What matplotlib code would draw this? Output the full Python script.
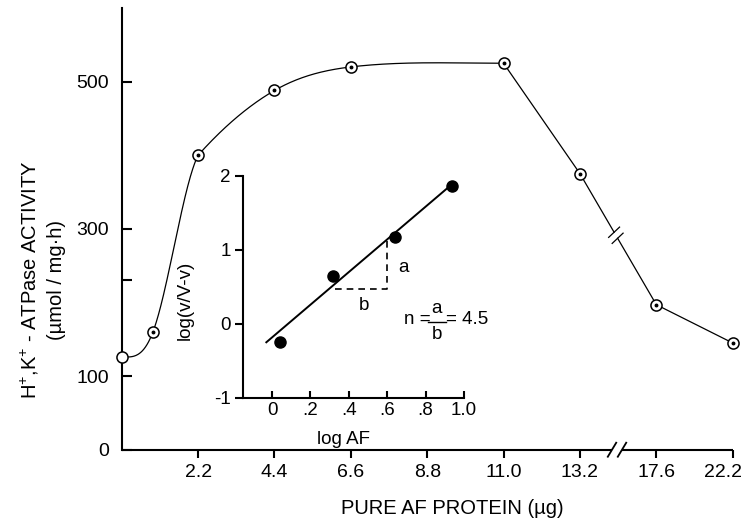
import numpy as np
import matplotlib
matplotlib.use("Agg")
import matplotlib.pyplot as plt
from matplotlib.transforms import IdentityTransform, blended_transform_factory, ScaledTranslation

plt.rcParams['font.family'] = ['Liberation Sans', 'DejaVu Sans']
plt.rcParams['mathtext.fontset'] = 'custom'
plt.rcParams['mathtext.rm'] = 'Liberation Sans'

# main curve: pure AF protein (ug) vs H+,K+-ATPase activity (umol / mg.h)
protein_ug = [0, 0.9, 2.2, 4.4, 6.6, 11.0, 13.2, 17.6, 22.2]
activity = [126, 160, 400, 488, 520, 525, 375, 197, 145]
n_smooth = 6          # first points joined by a smooth curve, rest straight
kink = 2              # the smooth curve bends sharply at 2.2 ug

x_ticks = [2.2, 4.4, 6.6, 8.8, 11.0, 13.2, 17.6, 22.2]
x_ticklabels = ['2.2', '4.4', '6.6', '8.8', '11.0', '13.2', '17.6', '22.2']
y_ticks = [0, 100, 230, 300, 500]
y_ticklabels = ['0', '100', '', '300', '500']

# broken x axis: every tick gets the same width
slot_ug = [0, 2.2, 4.4, 6.6, 8.8, 11.0, 13.2, 17.6, 22.2]
slot_pos = list(range(len(slot_ug)))

# inset: log plot
log_af = [0.04, 0.32, 0.64, 0.94]
log_v = [-0.24, 0.65, 1.17, 1.86]
fit_x = [-0.03, 0.92]
fit_y = [-0.25, 1.85]
tri_x = [0.33, 0.60, 0.60]
tri_y = [0.47, 0.47, 1.15]
inset_xticks = [0, 0.2, 0.4, 0.6, 0.8, 1.0]
inset_xticklabels = ['0', '.2', '.4', '.6', '.8', '1.0']
inset_yticks = [-1, 0, 1, 2]
inset_yticklabels = ['-1', '0', '1', '2']

FS = 14.5    # axis labels
TS = 14      # main tick labels
IS = 13.5    # inset text


def fwd(x):
    return np.interp(x, slot_ug, slot_pos)


def inv(s):
    return np.interp(s, slot_pos, slot_ug)


def end_slope(x, y):
    '''three point end slope, kept to the sign of the first secant'''
    h0, h1 = x[1] - x[0], x[2] - x[1]
    d0, d1 = (y[1] - y[0]) / h0, (y[2] - y[1]) / h1
    m = ((2 * h0 + h1) * d0 - h0 * d1) / (h0 + h1)
    return m if np.sign(m) == np.sign(d0) else 0.0


def hermite(x, y, m, xs):
    x = np.asarray(x, float)
    y = np.asarray(y, float)
    h = np.diff(x)
    idx = np.clip(np.searchsorted(x, xs) - 1, 0, len(x) - 2)
    t = (xs - x[idx]) / h[idx]
    h00 = 2 * t**3 - 3 * t**2 + 1
    h10 = t**3 - 2 * t**2 + t
    h01 = -2 * t**3 + 3 * t**2
    h11 = t**3 - t**2
    return (h00 * y[idx] + h10 * h[idx] * m[idx] + h01 * y[idx + 1]
            + h11 * h[idx] * m[idx + 1])


fig = plt.figure(figsize=(7.42, 5.26), dpi=100)
ax = fig.add_axes([0.164, 0.145, 0.8235, 0.8397])
ax.set_xscale('function', functions=(fwd, inv))
ax.set_xlim(0, 22.2)
ax.set_ylim(0, 600)

# smooth rising part: centred tangents, one-sided leaving the kink
xa = np.asarray(protein_ug[:n_smooth], float)
ya = np.asarray(activity[:n_smooth], float)
m = np.zeros_like(ya)
m[1:-1] = (ya[2:] - ya[:-2]) / (xa[2:] - xa[:-2])
m[0] = end_slope(xa, ya)
m_out = m.copy()
m_out[kink] = end_slope(xa[kink:], ya[kink:])
m_out[-1] = 0.0
xs1 = np.linspace(xa[0], xa[kink], 200)
xs2 = np.linspace(xa[kink], xa[-1], 300)
ax.plot(xs1, hermite(xa[:kink + 1], ya[:kink + 1], m[:kink + 1], xs1),
        color='k', lw=0.9, clip_on=False, zorder=2)
ax.plot(xs2, hermite(xa[kink:], ya[kink:], m_out[kink:], xs2),
        color='k', lw=0.9, zorder=2)
ax.plot(protein_ug[n_smooth - 1:n_smooth + 1], activity[n_smooth - 1:n_smooth + 1],
        color='k', lw=0.9, zorder=2)
ax.plot(protein_ug[-2:], activity[-2:], color='k', lw=0.9, clip_on=False, zorder=2)

# segment 13.2 -> 17.6 with break marks
px = IdentityTransform()
p0 = ax.transData.transform((protein_ug[6], activity[6]))
p1 = ax.transData.transform((protein_ug[7], activity[7]))
u = (p1 - p0) / np.hypot(*(p1 - p0))
b = p0 + 0.47 * (p1 - p0)
gap = 3.5
ax.plot([p0[0], (b - u * gap)[0]], [p0[1], (b - u * gap)[1]], color='k', lw=0.9, transform=px)
ax.plot([(b + u * gap)[0], p1[0]], [(b + u * gap)[1], p1[1]], color='k', lw=0.9, transform=px)
v = np.array([10.6, 10.0])
v = v / np.hypot(*v) * 7.5
for c in (b - u * gap, b + u * gap):
    ax.plot([c[0] - v[0], c[0] + v[0]], [c[1] - v[1], c[1] + v[1]], color='k', lw=0.9,
            transform=px, clip_on=False)

# markers: open circles with a dot (first one without)
ax.plot(protein_ug, activity, 'o', ms=8, mfc='white', mec='k', mew=1.1,
        clip_on=False, zorder=3)
ax.plot(protein_ug[1:], activity[1:], 'o', ms=1.8, color='k', clip_on=False, zorder=4)

# axes
for s in ('top', 'right', 'bottom'):
    ax.spines[s].set_visible(False)
ax.spines['left'].set_linewidth(1.5)
ax.set_xticks(x_ticks)
ax.set_xticklabels(x_ticklabels)
ax.set_yticks(y_ticks)
ax.set_yticklabels(y_ticklabels)
ax.tick_params(axis='x', direction='out', length=6, width=1.5, pad=4, labelsize=TS)
ax.tick_params(axis='y', direction='in', length=7, width=1.5, pad=9, labelsize=TS)
ax.minorticks_off()
# last label sits a bit left so it fits the page
last = ax.get_xticklabels()[-1]
last.set_transform(last.get_transform() + ScaledTranslation(-0.1, 0, fig.dpi_scale_trans))

# x axis line with a gap and slashes
trans = blended_transform_factory(ax.transData, ax.transAxes)
ax.plot([0, inv(6.42)], [0, 0], color='k', lw=1.5, transform=trans, clip_on=False,
        solid_capstyle='butt')
ax.plot([inv(6.55), 22.2], [0, 0], color='k', lw=1.5, transform=trans, clip_on=False,
        solid_capstyle='butt')
cx, cy = ax.transData.transform((inv(6.485), 0))
for dx in (-5, 5):
    ax.plot([cx + dx - 4.2, cx + dx + 4.2], [cy - 7, cy + 7], color='k', lw=1.3,
            transform=px, clip_on=False)

fig.text(452 / 742, 1 - 508 / 526, 'PURE AF PROTEIN (µg)', ha='center', va='center',
         fontsize=FS)
fig.text(30 / 742, 1 - 280 / 526, r'H$^{\mathregular{+}}$,K$^{\mathregular{+}}$ - ATPase ACTIVITY',
         rotation=90, ha='center', va='center', fontsize=FS)
fig.text(56 / 742, 1 - 280 / 526, '(µmol / mg·h)', rotation=90, ha='center', va='center',
         fontsize=FS)

# inset
ax2 = fig.add_axes([0.3279, 0.2439, 0.2974, 0.4215])
ax2.set_facecolor('none')
ax2.set_xlim(-0.15, 1.0)
ax2.set_ylim(-1, 2)
ax2.plot(fit_x, fit_y, color='k', lw=1.4)
ax2.plot(log_af, log_v, 'o', ms=8, color='k', clip_on=False)
ax2.plot(tri_x, tri_y, color='k', lw=1.2, dashes=(4, 3))
for s in ('top', 'right'):
    ax2.spines[s].set_visible(False)
for s in ('left', 'bottom'):
    ax2.spines[s].set_linewidth(1.5)
ax2.set_xticks(inset_xticks)
ax2.set_xticklabels(inset_xticklabels)
ax2.set_yticks(inset_yticks)
ax2.set_yticklabels(inset_yticklabels)
ax2.tick_params(axis='x', direction='in', length=5, width=1.5, pad=3, labelsize=IS)
ax2.tick_params(axis='y', direction='out', length=6, width=1.5, pad=3, labelsize=IS)
ax2.set_xlabel('log AF', fontsize=IS)
ax2.xaxis.set_label_coords(0.452, -0.15)
ax2.set_ylabel('log(v/V-v)', fontsize=IS)
ax2.yaxis.set_label_coords(-0.225, 0.44)

ax2.text(0.655, 0.76, 'a', fontsize=IS, ha='left', va='center')
ax2.text(0.48, 0.25, 'b', fontsize=IS, ha='center', va='center')
ax2.text(0.69, 0.06, 'n =', fontsize=IS, ha='left', va='center')
ax2.plot([0.81, 0.905], [0.03, 0.03], color='k', lw=1.0, clip_on=False)
ax2.text(0.858, 0.21, 'a', fontsize=IS, ha='center', va='center')
ax2.text(0.858, -0.15, 'b', fontsize=IS, ha='center', va='center')
ax2.text(0.905, 0.06, '= 4.5', fontsize=IS, ha='left', va='center', clip_on=False)

fig.savefig('out.png', dpi=100)
